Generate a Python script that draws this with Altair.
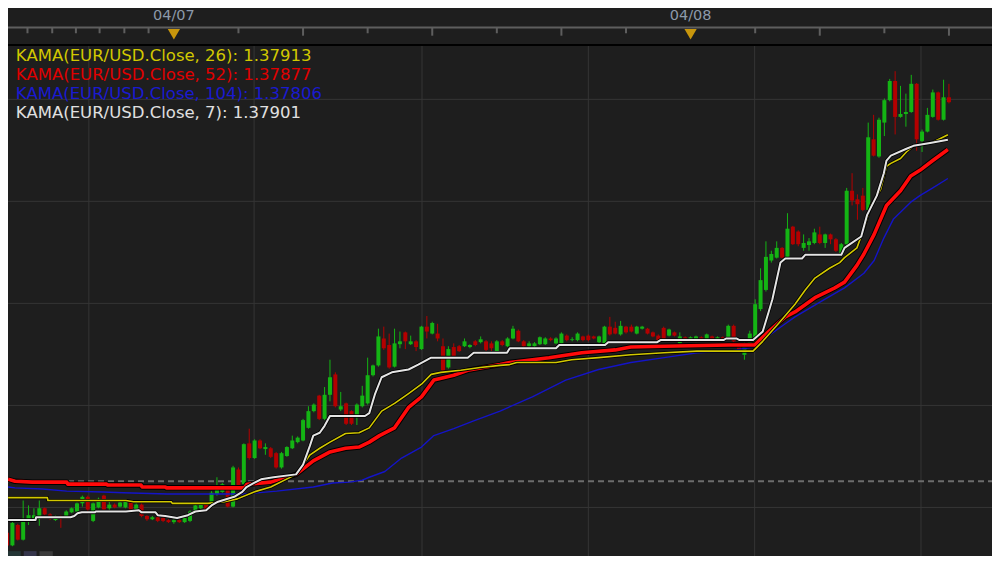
import altair as alt
import pandas as pd

# ---------------- layout (chart pixels) ----------------
W, H = 984, 548
SX, SY = W / 1000, H / 564

# ---------------- 15-minute EUR/USD candles ----------------
opens = [1.36938, 1.36907, 1.36957, 1.36921, 1.36969, 1.36974, 1.36979, 1.36998, 1.36983, 1.36969,
         1.36979, 1.36979, 1.36988, 1.36990, 1.37010, 1.37026, 1.36967, 1.37000, 1.37029, 1.36998,
         1.37007, 1.37002, 1.37000, 1.37014, 1.36993, 1.37007, 1.36979, 1.36971, 1.36976, 1.36974,
         1.36969, 1.36964, 1.36969, 1.36964, 1.36967, 1.36988, 1.36998, 1.37010, 1.37007, 1.37033,
         1.37038, 1.37045, 1.37002, 1.37093, 1.37057, 1.37157, 1.37121, 1.37164, 1.37143, 1.37145,
         1.37133, 1.37098, 1.37126, 1.37145, 1.37160, 1.37164, 1.37195, 1.37236, 1.37274, 1.37217,
         1.37276, 1.37326, 1.37240, 1.37255, 1.37236, 1.37224, 1.37248, 1.37255, 1.37324, 1.37348,
         1.37414, 1.37398, 1.37345, 1.37400, 1.37429, 1.37400, 1.37407, 1.37388, 1.37443, 1.37426,
         1.37426, 1.37395, 1.37343, 1.37393, 1.37395, 1.37395, 1.37393, 1.37407, 1.37405, 1.37407,
         1.37402, 1.37381, 1.37407, 1.37395, 1.37414, 1.37433, 1.37407, 1.37395, 1.37395, 1.37400,
         1.37400, 1.37414, 1.37402, 1.37402, 1.37421, 1.37410, 1.37410, 1.37419, 1.37421, 1.37419,
         1.37405, 1.37402, 1.37443, 1.37440, 1.37424, 1.37443, 1.37443, 1.37426, 1.37438, 1.37438,
         1.37429, 1.37421, 1.37440, 1.37421, 1.37429, 1.37402, 1.37417, 1.37410, 1.37407, 1.37417,
         1.37410, 1.37419, 1.37410, 1.37417, 1.37414, 1.37445, 1.37402, 1.37374, 1.37395, 1.37402,
         1.37486, 1.37533, 1.37605, 1.37612, 1.37636, 1.37614, 1.37688, 1.37676, 1.37636, 1.37643,
         1.37648, 1.37669, 1.37648, 1.37669, 1.37657, 1.37621, 1.37645, 1.37776, 1.37755, 1.37764,
         1.37729, 1.37902, 1.37860, 1.37943, 1.37998, 1.38045, 1.37957, 1.37964, 1.37969, 1.38038,
         1.37898, 1.37921, 1.37957, 1.38017, 1.37950, 1.38005]

highs = [1.36943, 1.36967, 1.36960, 1.37017, 1.37005, 1.36998, 1.37017, 1.37000, 1.36986, 1.36981,
         1.36981, 1.36993, 1.37000, 1.37012, 1.37029, 1.37029, 1.37012, 1.37024, 1.37031, 1.37017,
         1.37010, 1.37014, 1.37017, 1.37017, 1.37010, 1.37010, 1.36981, 1.36979, 1.36979, 1.36976,
         1.36971, 1.36971, 1.36971, 1.36976, 1.36993, 1.37007, 1.37012, 1.37012, 1.37040, 1.37074,
         1.37060, 1.37048, 1.37102, 1.37098, 1.37157, 1.37193, 1.37167, 1.37167, 1.37157, 1.37148,
         1.37136, 1.37136, 1.37150, 1.37176, 1.37174, 1.37217, 1.37248, 1.37255, 1.37276, 1.37295,
         1.37362, 1.37331, 1.37283, 1.37257, 1.37238, 1.37255, 1.37298, 1.37367, 1.37350, 1.37438,
         1.37443, 1.37426, 1.37438, 1.37431, 1.37431, 1.37421, 1.37410, 1.37445, 1.37469, 1.37455,
         1.37450, 1.37414, 1.37395, 1.37402, 1.37398, 1.37414, 1.37400, 1.37410, 1.37419, 1.37410,
         1.37407, 1.37410, 1.37410, 1.37417, 1.37445, 1.37436, 1.37410, 1.37407, 1.37405, 1.37419,
         1.37417, 1.37417, 1.37417, 1.37429, 1.37424, 1.37417, 1.37429, 1.37421, 1.37424, 1.37421,
         1.37421, 1.37445, 1.37467, 1.37455, 1.37457, 1.37445, 1.37448, 1.37445, 1.37445, 1.37440,
         1.37431, 1.37424, 1.37443, 1.37438, 1.37431, 1.37429, 1.37419, 1.37419, 1.37421, 1.37419,
         1.37426, 1.37421, 1.37419, 1.37419, 1.37448, 1.37448, 1.37405, 1.37405, 1.37433, 1.37510,
         1.37586, 1.37652, 1.37629, 1.37652, 1.37638, 1.37721, 1.37690, 1.37679, 1.37669, 1.37660,
         1.37683, 1.37688, 1.37671, 1.37671, 1.37660, 1.37648, 1.37783, 1.37819, 1.37767, 1.37783,
         1.37943, 1.37962, 1.37955, 1.38002, 1.38050, 1.38069, 1.38033, 1.38014, 1.38060, 1.38040,
         1.37926, 1.37979, 1.38024, 1.38019, 1.38048, 1.38038]

lows = [1.36900, 1.36905, 1.36919, 1.36919, 1.36957, 1.36971, 1.36955, 1.36981, 1.36969, 1.36967,
        1.36950, 1.36976, 1.36986, 1.36988, 1.37002, 1.36988, 1.36964, 1.36998, 1.36993, 1.36993,
        1.36998, 1.37000, 1.36998, 1.36990, 1.36990, 1.36976, 1.36967, 1.36969, 1.36964, 1.36964,
        1.36962, 1.36960, 1.36962, 1.36962, 1.36964, 1.36986, 1.36995, 1.36990, 1.37005, 1.37029,
        1.37036, 1.37000, 1.37000, 1.37052, 1.37045, 1.37117, 1.37119, 1.37143, 1.37129, 1.37121,
        1.37095, 1.37095, 1.37124, 1.37143, 1.37157, 1.37162, 1.37193, 1.37233, 1.37214, 1.37214,
        1.37260, 1.37245, 1.37236, 1.37202, 1.37202, 1.37202, 1.37245, 1.37252, 1.37321, 1.37345,
        1.37386, 1.37340, 1.37343, 1.37390, 1.37388, 1.37398, 1.37383, 1.37386, 1.37414, 1.37424,
        1.37407, 1.37333, 1.37340, 1.37364, 1.37381, 1.37393, 1.37390, 1.37395, 1.37402, 1.37383,
        1.37383, 1.37379, 1.37395, 1.37393, 1.37412, 1.37405, 1.37388, 1.37393, 1.37393, 1.37398,
        1.37398, 1.37407, 1.37400, 1.37400, 1.37407, 1.37407, 1.37407, 1.37407, 1.37407, 1.37412,
        1.37402, 1.37400, 1.37421, 1.37424, 1.37421, 1.37426, 1.37429, 1.37424, 1.37436, 1.37424,
        1.37417, 1.37407, 1.37407, 1.37419, 1.37419, 1.37398, 1.37407, 1.37407, 1.37405, 1.37407,
        1.37407, 1.37407, 1.37407, 1.37407, 1.37412, 1.37405, 1.37381, 1.37362, 1.37393, 1.37395,
        1.37481, 1.37529, 1.37600, 1.37610, 1.37610, 1.37612, 1.37643, 1.37640, 1.37629, 1.37629,
        1.37645, 1.37645, 1.37636, 1.37645, 1.37626, 1.37619, 1.37643, 1.37740, 1.37705, 1.37726,
        1.37724, 1.37860, 1.37857, 1.37910, 1.37995, 1.37914, 1.37955, 1.37933, 1.37967, 1.37874,
        1.37871, 1.37919, 1.37955, 1.37948, 1.37948, 1.37990]

closes = [1.36907, 1.36962, 1.36921, 1.36969, 1.36981, 1.36981, 1.36998, 1.36983, 1.36974, 1.36979,
          1.36974, 1.36990, 1.36998, 1.37010, 1.37026, 1.36995, 1.37010, 1.37021, 1.36995, 1.37007,
          1.37000, 1.37012, 1.37014, 1.36993, 1.37007, 1.36979, 1.36971, 1.36976, 1.36967, 1.36967,
          1.36964, 1.36969, 1.36964, 1.36974, 1.36990, 1.37005, 1.37010, 1.36993, 1.37036, 1.37045,
          1.37057, 1.37002, 1.37098, 1.37055, 1.37155, 1.37121, 1.37164, 1.37145, 1.37148, 1.37124,
          1.37098, 1.37133, 1.37148, 1.37164, 1.37171, 1.37214, 1.37236, 1.37252, 1.37217, 1.37276,
          1.37319, 1.37248, 1.37248, 1.37205, 1.37205, 1.37252, 1.37274, 1.37324, 1.37348, 1.37419,
          1.37390, 1.37343, 1.37402, 1.37407, 1.37407, 1.37407, 1.37393, 1.37443, 1.37431, 1.37452,
          1.37414, 1.37336, 1.37388, 1.37367, 1.37383, 1.37407, 1.37398, 1.37398, 1.37412, 1.37386,
          1.37390, 1.37407, 1.37398, 1.37414, 1.37438, 1.37407, 1.37395, 1.37402, 1.37402, 1.37417,
          1.37414, 1.37410, 1.37414, 1.37426, 1.37410, 1.37412, 1.37426, 1.37410, 1.37410, 1.37414,
          1.37419, 1.37443, 1.37424, 1.37426, 1.37445, 1.37429, 1.37431, 1.37443, 1.37443, 1.37426,
          1.37419, 1.37410, 1.37412, 1.37436, 1.37421, 1.37419, 1.37410, 1.37417, 1.37419, 1.37410,
          1.37424, 1.37410, 1.37417, 1.37410, 1.37445, 1.37407, 1.37383, 1.37395, 1.37426, 1.37498,
          1.37557, 1.37614, 1.37621, 1.37636, 1.37612, 1.37683, 1.37645, 1.37645, 1.37648, 1.37652,
          1.37674, 1.37648, 1.37669, 1.37657, 1.37629, 1.37645, 1.37776, 1.37752, 1.37743, 1.37729,
          1.37907, 1.37862, 1.37950, 1.37998, 1.38045, 1.37957, 1.37964, 1.37969, 1.38038, 1.37902,
          1.37921, 1.37962, 1.38017, 1.37950, 1.38005, 1.37993]

# ---------------- KAMA lines (candle index, value) ----------------
kama7_idx = [0.2, 5.3, 5.4, 11.8, 12.5, 13.1, 13.9, 16.3, 16.5, 22.1, 24.5, 25.0, 27.6, 28.0, 29.4,
             31.6, 33.6, 35.0, 37.0, 38.0, 39.2, 40.4, 42.2, 43.7, 44.5, 45.9, 47.2, 49.5, 53.7, 55.0,
             56.3, 56.9, 58.1, 59.0, 60.0, 66.5, 67.3, 68.4, 69.6, 71.5, 74.6, 76.4, 78.8, 85.6, 86.7,
             92.9, 93.4, 102.0, 102.6, 111.1, 111.7, 120.8, 121.4, 133.1, 133.6, 135.5, 136.1, 138.6,
             140.4, 141.5, 142.2, 143.7, 144.6, 147.7, 148.3, 155.0, 155.6, 158.7, 159.8, 161.6,
             162.9, 163.4, 164.2, 167.1, 168.4, 171.5, 174.8]
kama7_val = [1.36969, 1.36969, 1.36976, 1.36976, 1.36979, 1.36986, 1.36988, 1.36988, 1.36990, 1.36990,
             1.36993, 1.36988, 1.36988, 1.36981, 1.36979, 1.36974, 1.36981, 1.36990, 1.36993, 1.37005,
             1.37014, 1.37019, 1.37026, 1.37038, 1.37050, 1.37060, 1.37069, 1.37074, 1.37081, 1.37105,
             1.37152, 1.37176, 1.37183, 1.37200, 1.37224, 1.37224, 1.37231, 1.37279, 1.37319, 1.37331,
             1.37338, 1.37350, 1.37367, 1.37367, 1.37379, 1.37379, 1.37390, 1.37390, 1.37398, 1.37398,
             1.37405, 1.37405, 1.37410, 1.37410, 1.37414, 1.37414, 1.37410, 1.37410, 1.37431, 1.37479,
             1.37510, 1.37600, 1.37610, 1.37610, 1.37619, 1.37619, 1.37636, 1.37664, 1.37717, 1.37764,
             1.37819, 1.37850, 1.37862, 1.37879, 1.37886, 1.37893, 1.37901]

kama26_idx = [0.2, 7.5, 7.6, 22.1, 23.5, 30.5, 30.7, 37.3, 40.4, 42.8, 45.9, 49.0, 53.7, 55.0, 56.3,
              58.1, 60.0, 62.9, 65.4, 67.3, 69.6, 72.0, 74.6, 77.0, 78.8, 80.6, 84.3, 87.9, 91.6, 93.4,
              94.7, 102.0, 104.9, 109.9, 115.9, 122.1, 128.2, 138.6, 140.4, 143.3, 146.4, 148.3, 150.1,
              152.8, 154.7, 155.6, 157.9, 159.2, 160.5, 162.3, 163.4, 164.2, 166.0, 167.1, 168.4,
              172.0, 174.8]
kama26_val = [1.37024, 1.37024, 1.37017, 1.37017, 1.37014, 1.37014, 1.37010, 1.37010, 1.37014, 1.37021,
              1.37038, 1.37050, 1.37081, 1.37105, 1.37129, 1.37145, 1.37160, 1.37181, 1.37183, 1.37195,
              1.37236, 1.37255, 1.37279, 1.37302, 1.37326, 1.37331, 1.37336, 1.37343, 1.37348, 1.37350,
              1.37355, 1.37355, 1.37362, 1.37367, 1.37374, 1.37379, 1.37383, 1.37383, 1.37407, 1.37450,
              1.37498, 1.37533, 1.37562, 1.37586, 1.37600, 1.37612, 1.37636, 1.37683, 1.37740, 1.37779,
              1.37836, 1.37843, 1.37855, 1.37871, 1.37886, 1.37895, 1.37913]

kama52_idx = [0.2, 1.5, 4.7, 11.1, 11.3, 18.5, 18.7, 24.9, 25.1, 29.4, 29.6, 44.1, 44.6, 49.0, 53.7,
              56.9, 60.0, 62.9, 65.4, 67.3, 69.2, 72.0, 74.6, 77.0, 79.3, 83.0, 85.6, 91.6, 93.4, 100.7,
              106.8, 113.0, 115.9, 122.1, 134.2, 138.9, 141.5, 144.6, 146.4, 150.1, 153.8, 155.6, 157.9,
              159.2, 161.1, 163.4, 166.0, 167.9, 169.6, 172.0, 174.8]
kama52_val = [1.37069, 1.37064, 1.37062, 1.37062, 1.37057, 1.37057, 1.37055, 1.37055, 1.37050, 1.37050,
              1.37048, 1.37048, 1.37057, 1.37062, 1.37081, 1.37114, 1.37136, 1.37145, 1.37148, 1.37160,
              1.37176, 1.37195, 1.37245, 1.37271, 1.37312, 1.37324, 1.37336, 1.37350, 1.37355, 1.37367,
              1.37379, 1.37386, 1.37393, 1.37395, 1.37398, 1.37398, 1.37431, 1.37467, 1.37479, 1.37514,
              1.37538, 1.37552, 1.37593, 1.37621, 1.37669, 1.37740, 1.37776, 1.37812, 1.37826, 1.37850,
              1.37877]

kama104_idx = [0.2, 1.5, 6.6, 11.1, 17.9, 21.6, 29.8, 44.1, 50.1, 56.9, 60.5, 63.6, 66.0, 67.3, 70.2,
               73.3, 77.0, 79.3, 83.0, 86.7, 91.6, 97.6, 103.8, 109.9, 115.9, 122.1, 128.2, 134.2, 138.6,
               141.5, 144.6, 146.4, 151.9, 155.6, 159.2, 161.1, 162.9, 164.7, 167.9, 169.6, 172.0, 174.8]
kama104_val = [1.37050, 1.37048, 1.37045, 1.37040, 1.37038, 1.37036, 1.37033, 1.37033, 1.37040, 1.37050,
               1.37060, 1.37062, 1.37067, 1.37074, 1.37088, 1.37121, 1.37148, 1.37176, 1.37193, 1.37212,
               1.37236, 1.37271, 1.37312, 1.37338, 1.37355, 1.37367, 1.37379, 1.37383, 1.37393, 1.37421,
               1.37450, 1.37467, 1.37510, 1.37538, 1.37574, 1.37605, 1.37660, 1.37707, 1.37748, 1.37764,
               1.37783, 1.37806]

# ---------------- labels / reference levels ----------------
legend_labels = ["KAMA(EUR/USD.Close, 26): 1.37913",
                 "KAMA(EUR/USD.Close, 52): 1.37877",
                 "KAMA(EUR/USD.Close, 104): 1.37806",
                 "KAMA(EUR/USD.Close, 7): 1.37901"]
legend_colors = ["#d2c800", "#e00000", "#1a1ad0", "#e0e0e0"]
date_labels = ["04/07", "04/08"]
date_idx = [31, 127]
short_tick_idx = [3.8, 8.4, 12.8, 17.2, 21.8, 26.3, 43, 67, 91, 115, 139, 163]
tall_tick_idx = [55, 79, 103, 151, 175]
grid_x = [15.2, 45.9, 77.1, 108.0, 138.9, 169.8]
grid_y = [1.3700, 1.3725, 1.3750, 1.3775, 1.3800]
prev_close = 1.37064
button_colors = ["#243535", "#35354b", "#3b3b3b"]

BG = "#1e1e1e"
GRID = "#353535"
GREEN = "#14b414"
RED = "#b40000"

xs = alt.Scale(domain=[0.1828, 182.998], nice=False, zero=False)
ys = alt.Scale(domain=[1.368810, 1.382238], nice=False, zero=False)


def X(f):
    return alt.X(f, type="quantitative", scale=xs, axis=None)


def Y(f):
    return alt.Y(f, type="quantitative", scale=ys, axis=None)


one = pd.DataFrame({"k": [0]})

# grid
vgrid = alt.Chart(pd.DataFrame({"g": grid_x})).mark_rule(color=GRID, strokeWidth=1).encode(
    x=X("g"), y=alt.value(38 * SY), y2=alt.value(H))
hgrid = alt.Chart(pd.DataFrame({"p": grid_y})).mark_rule(color=GRID, strokeWidth=1).encode(
    y=Y("p"), x=alt.value(0), x2=alt.value(W))
prevline = alt.Chart(pd.DataFrame({"p": [prev_close]})).mark_rule(
    color="#6c6c6c", strokeWidth=2, strokeDash=[6, 4]).encode(y=Y("p"), x=alt.value(0), x2=alt.value(W))

# candles
cdf = pd.DataFrame({"i": list(range(len(opens))), "open": opens, "high": highs,
                    "low": lows, "close": closes})
ccol = alt.condition(alt.datum.close > alt.datum.open, alt.value(GREEN), alt.value(RED))
wicks = alt.Chart(cdf).mark_rule(strokeWidth=1, clip=True).encode(
    x=X("i"), y=Y("low"), y2="high", color=ccol)
bodies = alt.Chart(cdf).mark_rule(strokeWidth=4, clip=True).encode(
    x=X("i"), y=Y("open"), y2="close", color=ccol)


def kline(idx, vals, color, width):
    d = pd.DataFrame({"idx": idx, "v": vals})
    return alt.Chart(d).mark_line(color=color, strokeWidth=width, clip=True,
                                  strokeJoin="round").encode(x=X("idx"), y=Y("v"))


lines = [
    kline(kama104_idx, kama104_val, "#1414c8", 1.4),
    kline(kama52_idx, kama52_val, "#000000", 5.5),
    kline(kama52_idx, kama52_val, "#ff0a0a", 3.6),
    kline(kama26_idx, kama26_val, "#000000", 3.2),
    kline(kama26_idx, kama26_val, "#d2c800", 1.6),
    kline(kama7_idx, kama7_val, "#000000", 3.6),
    kline(kama7_idx, kama7_val, "#e4e4e4", 2.0),
]

# top date strip
axis_line = alt.Chart(one).mark_rule(color="#5e5e5e", strokeWidth=2).encode(
    x=alt.value(0), x2=alt.value(W), y=alt.value(20 * SY))
sep_line = alt.Chart(one).mark_rule(color="#000000", strokeWidth=2).encode(
    x=alt.value(0), x2=alt.value(W), y=alt.value(38 * SY))
short_ticks = alt.Chart(pd.DataFrame({"t": short_tick_idx})).mark_rule(
    color="#5e5e5e", strokeWidth=2).encode(x=X("t"), y=alt.value(20 * SY), y2=alt.value(26 * SY))
tall_ticks = alt.Chart(pd.DataFrame({"t": tall_tick_idx})).mark_rule(
    color="#5e5e5e", strokeWidth=2).encode(x=X("t"), y=alt.value(20 * SY), y2=alt.value(28.5 * SY))
markers = alt.Chart(pd.DataFrame({"d": date_idx})).mark_point(
    shape="triangle-down", filled=True, size=150, color="#c8960c", opacity=1).encode(
    x=X("d"), y=alt.value(27 * SY))
date_text = alt.Chart(pd.DataFrame({"d": date_idx, "lab": date_labels})).mark_text(
    font="DejaVu Sans", fontSize=14.5, color="#8c99aa", align="center", baseline="alphabetic").encode(
    x=X("d"), y=alt.value(12.5 * SY), text="lab:N")

# small buttons bottom-left
bdf = pd.DataFrame({"x0": [0, 16 * SX, 32 * SX], "x1": [13 * SX, 29 * SX, 45.5 * SX],
                    "c": button_colors})
buttons = alt.Chart(bdf).mark_rect().encode(
    x=alt.X("x0:Q", scale=None), x2="x1:Q", y=alt.value(559 * SY), y2=alt.value(H),
    color=alt.Color("c:N", scale=None))

# legend text
ldf = pd.DataFrame({"lab": legend_labels, "col": legend_colors,
                    "py": [(55 + 19.5 * k) * SY for k in range(len(legend_labels))]})
legend = alt.Chart(ldf).mark_text(font="DejaVu Sans", fontSize=16.5, align="left",
                                  baseline="alphabetic").encode(
    x=alt.value(8 * SX), y=alt.Y("py:Q", scale=None), text="lab:N",
    color=alt.Color("col:N", scale=None))

chart = alt.layer(
    vgrid, hgrid, prevline, wicks, bodies, *lines,
    axis_line, sep_line, short_ticks, tall_ticks, markers, date_text, buttons, legend
).properties(
    width=W, height=H, padding=0, background=BG,
    autosize=alt.AutoSizeParams(type="none")
).configure_view(strokeWidth=0)

chart.save("out.html", embed_options={"renderer": "svg", "actions": False})
